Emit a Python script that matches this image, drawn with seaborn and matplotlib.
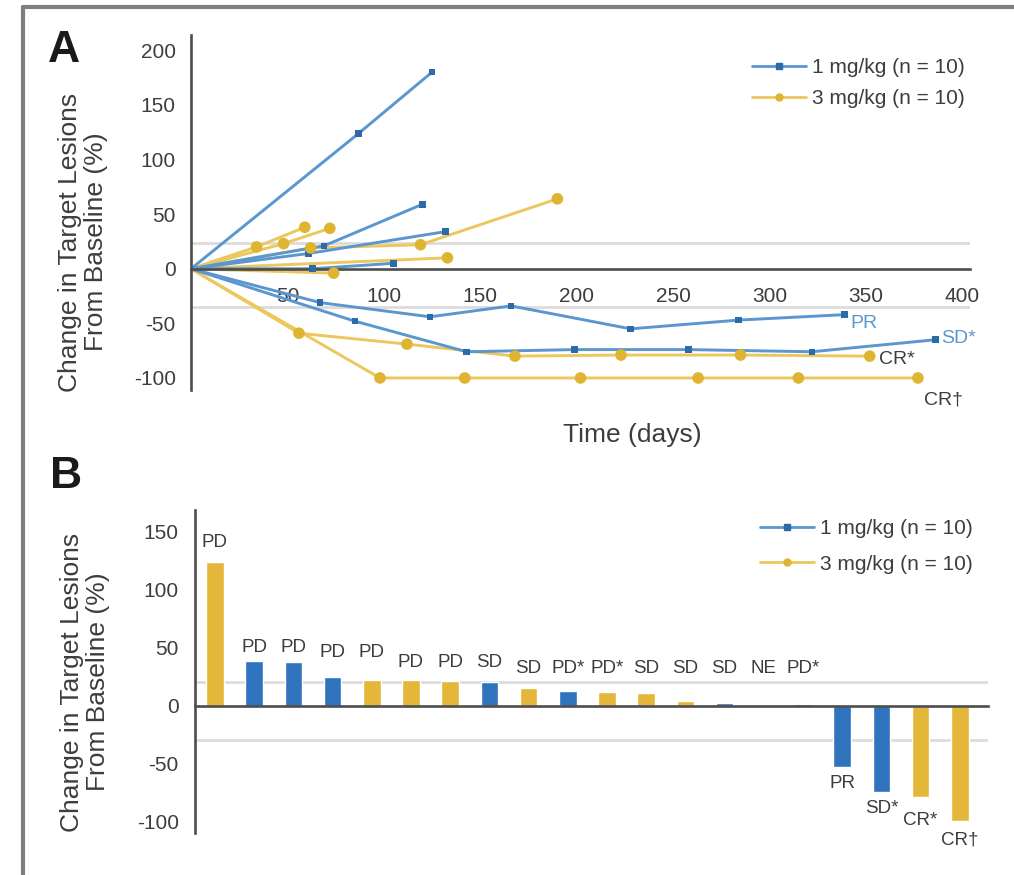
import matplotlib
matplotlib.use("Agg")
import matplotlib.pyplot as plt
from matplotlib.lines import Line2D
import numpy as np
import pandas as pd
import seaborn as sns

# ---------------- data ----------------
doses = ["1 mg/kg (n = 10)", "3 mg/kg (n = 10)"]

# Panel A: change in target lesions from baseline (%) per patient over time (days)
low_days = [
    [0, 87, 125],
    [0, 69, 120],
    [0, 61, 132],
    [0, 63, 105],
    [0, 67, 124, 166, 228, 284, 339],
    [0, 85, 143, 199, 258, 322, 386],
]
low_change = [
    [0, 124, 180],
    [0, 21, 59],
    [0, 14, 34],
    [0, 0, 5],
    [0, -31, -44, -34, -55, -47, -42],
    [0, -48, -76, -74, -74, -76, -65],
]
high_days = [
    [0, 98, 142, 202, 263, 315, 377],
    [0, 56, 112, 168, 223, 285, 352],
    [0, 62, 119, 190],
    [0, 34, 59],
    [0, 48, 72],
    [0, 74],
    [0, 133],
]
high_change = [
    [0, -100, -100, -100, -100, -100, -100],
    [0, -59, -69, -80, -79, -79, -80],
    [0, 19, 22, 64],
    [0, 20, 38],
    [0, 23, 37],
    [0, -4],
    [0, 10],
]
# best-response tags at the end of selected curves: (dose index, patient index, tag)
curve_tags = [(0, 4, "PR"), (0, 5, "SD*"), (1, 1, "CR*"), (1, 0, "CR\u2020")]

# Panel B: best change in target lesions (%) per patient
bar_change = [124, 39, 38, 25, 22, 22, 21, 20, 15, 13, 12, 11, 4, 2, 0, 1,
              -53, -75, -79, -100]
bar_dose = [2, 1, 1, 1, 2, 2, 2, 1, 2, 1, 2, 2, 2, 1, 1, 1, 1, 1, 2, 2]
bar_tags = ["PD", "PD", "PD", "PD", "PD", "PD", "PD", "SD", "SD", "PD*",
            "PD*", "SD", "SD", "SD", "NE", "PD*", "PR", "SD*", "CR*", "CR\u2020"]

# response thresholds drawn as faint guide lines
guides_A = [24, -35]
guides_B = [20, -30]

# ---------------- style ----------------
sns.set_theme(style="white")
plt.rcParams["font.family"] = ["Liberation Sans", "DejaVu Sans"]
plt.rcParams["axes.unicode_minus"] = False

BLUE_LINE, BLUE_MARK, BLUE_BAR = "#5a96cf", "#2c6aa8", "#2f73bd"
GOLD_LINE, GOLD_MARK, GOLD_BAR = "#ebc75e", "#dfb431", "#e4b73b"
AXIS = "#4d4d4d"
TXT = "#3d3d3d"
GUIDE = "#dcdcdc"

W, H = 1014, 875
fig = plt.figure(figsize=(W / 100, H / 100), dpi=100)
fig.patch.set_facecolor("white")


def fx(px):
    return px / W


def fy(py):
    return 1 - py / H


def style_axes(ax):
    for side in ("top", "right"):
        ax.spines[side].set_visible(False)
    ax.spines["bottom"].set_position(("data", 0))
    for side in ("left", "bottom"):
        ax.spines[side].set_color(AXIS)
        ax.spines[side].set_linewidth(1.9)
    ax.set_facecolor("none")
    ax.tick_params(axis="both", colors=AXIS, labelcolor=TXT, width=1.4,
                   direction="out", labelsize=15)
    ax.set_xlabel("")
    ax.set_ylabel("")


def legend_handles():
    return [
        Line2D([], [], color=BLUE_LINE, lw=2, marker="s", ms=5,
               markerfacecolor=BLUE_MARK, markeredgecolor=BLUE_MARK),
        Line2D([], [], color=GOLD_LINE, lw=2, marker="o", ms=5,
               markerfacecolor=GOLD_MARK, markeredgecolor=GOLD_MARK),
    ]


# ---------------- panel A: spider plot ----------------
rows = []
for di, (days_list, chg_list) in enumerate([(low_days, low_change),
                                            (high_days, high_change)]):
    for pi, (dd, cc) in enumerate(zip(days_list, chg_list)):
        for d, c in zip(dd, cc):
            rows.append({"dose": doses[di], "patient": f"{di}-{pi}",
                         "day": d, "change": c})
dfA = pd.DataFrame(rows)

axA = fig.add_axes([fx(191), fy(390), fx(970) - fx(191), (390 - 35) / H])
for g in guides_A:
    axA.axhline(g, color=GUIDE, lw=2, zorder=0)

sns.lineplot(data=dfA, x="day", y="change", hue="dose", hue_order=doses[::-1],
             units="patient", estimator=None, sort=False,
             palette={doses[0]: BLUE_LINE, doses[1]: GOLD_LINE},
             lw=2.1, legend=False, ax=axA)
pts = dfA[dfA["day"] > 0]
sns.scatterplot(data=pts, x="day", y="change", hue="dose", style="dose",
                size="dose", hue_order=doses[::-1],
                palette={doses[0]: BLUE_MARK, doses[1]: GOLD_MARK},
                markers={doses[0]: "s", doses[1]: "o"},
                sizes={doses[0]: 22, doses[1]: 70},
                linewidth=0, legend=False, ax=axA, zorder=3)

axA.set_xlim(0, 404)
axA.set_ylim(-111, 214)
axA.set_xticks(np.arange(50, 401, 50))
axA.set_yticks(np.arange(-100, 201, 50))
style_axes(axA)
axA.tick_params(axis="y", length=7, pad=4)
axA.tick_params(axis="x", length=6, pad=7)

tag_style = {"PR": (BLUE_LINE, (6, -9), "left"),
             "SD*": (BLUE_LINE, (6, 1), "left"),
             "CR*": (TXT, (9, -3), "left"),
             "CR\u2020": (TXT, (6, -22), "left")}
for di, pi, tag in curve_tags:
    dd = (low_days, high_days)[di][pi]
    cc = (low_change, high_change)[di][pi]
    col, off, ha = tag_style[tag]
    axA.annotate(tag, (dd[-1], cc[-1]), xytext=off, textcoords="offset pixels",
                 ha=ha, va="center", fontsize=14, color=col)

axA.legend(handles=legend_handles(), labels=doses, loc="upper left",
           bbox_to_anchor=(fx(752), fy(58)), bbox_transform=fig.transFigure,
           frameon=False, fontsize=15, handlelength=2.6, handletextpad=0.3,
           borderpad=0, borderaxespad=0, labelspacing=0.6,
           labelcolor=TXT)

fig.text(fx(632), fy(435), "Time (days)", ha="center", va="center",
         fontsize=19, color=TXT)
fig.text(fx(83), fy(242), "Change in Target Lesions\nFrom Baseline (%)",
         rotation=90, ha="center", va="center", multialignment="center",
         fontsize=19, color=TXT, linespacing=1.15)
fig.text(fx(64), fy(50), "A", ha="center", va="center", fontsize=32,
         fontweight="bold", color="#1a1a1a")

# ---------------- panel B: waterfall ----------------
order = [f"P{i + 1:02d}" for i in range(len(bar_change))]
dfB = pd.DataFrame({"patient": order, "change": bar_change,
                    "dose": [doses[d - 1] for d in bar_dose]})

axB = fig.add_axes([fx(195.4), fy(833), fx(988) - fx(195.4), (833 - 510) / H])
for g in guides_B:
    axB.axhline(g, color=GUIDE, lw=2, zorder=0)

sns.barplot(data=dfB, x="patient", y="change", hue="dose", order=order,
            hue_order=doses, palette={doses[0]: BLUE_BAR, doses[1]: GOLD_BAR},
            dodge=False, width=0.45, saturation=1, legend=False, ax=axB,
            zorder=2)

axB.set_xlim(-0.5, 19.72)
axB.set_ylim(-110, 169)
axB.set_yticks(np.arange(-100, 151, 50))
axB.set_xticks(np.arange(0.5, 20, 1))
axB.set_xticklabels([])
style_axes(axB)
axB.tick_params(axis="y", length=8, pad=4)
axB.tick_params(axis="x", length=6)

# staggered heights for the response tags
tag_y = [141, 50, 50, 46, 46, 37, 37, 37, 32, 32, 32, 32, 32, 32, 32, 32,
         -67, -89, -99, -116]
for i, tag in enumerate(bar_tags):
    axB.text(i, tag_y[i], tag, ha="center", va="center", fontsize=13.5,
             color=TXT)

axB.legend(handles=legend_handles(), labels=doses, loc="upper left",
           bbox_to_anchor=(fx(760), fy(519)), bbox_transform=fig.transFigure,
           frameon=False, fontsize=15, handlelength=2.6, handletextpad=0.3,
           borderpad=0, borderaxespad=0, labelspacing=0.8,
           labelcolor=TXT)

fig.text(fx(85), fy(682), "Change in Target Lesions\nFrom Baseline (%)",
         rotation=90, ha="center", va="center", multialignment="center",
         fontsize=19, color=TXT, linespacing=1.15)
fig.text(fx(66), fy(476), "B", ha="center", va="center", fontsize=32,
         fontweight="bold", color="#1a1a1a")

# outer frame (left and top edges)
fig.add_artist(Line2D([fx(23), fx(23)], [0, fy(7)], transform=fig.transFigure,
                      color="#7f7f7f", lw=3))
fig.add_artist(Line2D([fx(23), 1], [fy(7), fy(7)], transform=fig.transFigure,
                      color="#7f7f7f", lw=3))

fig.savefig("out.png", dpi=100, facecolor="white")
